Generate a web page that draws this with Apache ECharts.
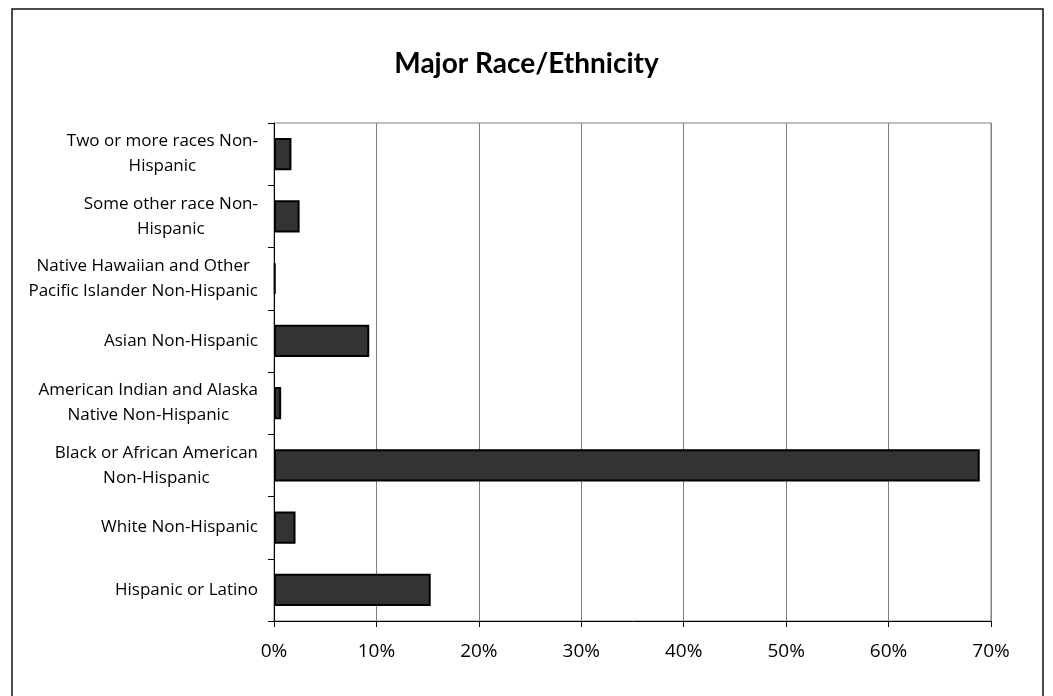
<!DOCTYPE html>
<html>
<head>
<meta charset="utf-8">
<style>
  html, body { margin: 0; padding: 0; background: #ffffff; }
  #chart { width: 1053px; height: 696px; }
</style>
<script src="https://cdn.jsdelivr.net/npm/echarts@6/dist/echarts.min.js"></script>
</head>
<body>
<div id="chart"></div>
<script>
// Categories listed bottom to top (category axis grows upward)
const categories = [
  'Hispanic or Latino',
  'White Non-Hispanic',
  'Black or African American\nNon-Hispanic',
  'American Indian and Alaska\nNative Non-Hispanic',
  'Asian Non-Hispanic',
  'Native Hawaiian and Other\nPacific Islander Non-Hispanic',
  'Some other race Non-\nHispanic',
  'Two or more races Non-\nHispanic'
];
// Share of population, percent
const shares = [15.3, 2.1, 68.9, 0.7, 9.3, 0.15, 2.5, 1.7];
const xTicks = [0, 10, 20, 30, 40, 50, 60, 70];

const labelFont = '"Open Sans", "DejaVu Sans", sans-serif';

const chart = echarts.init(document.getElementById('chart'), null, { renderer: 'canvas' });
chart.setOption({
  animation: false,
  backgroundColor: '#ffffff',
  title: {
    text: 'Major Race/Ethnicity',
    left: 'center',
    top: 45,
    textStyle: {
      fontFamily: '"Lato", "Open Sans", sans-serif',
      fontWeight: 'bold',
      fontSize: 28,
      color: '#000000'
    }
  },
  graphic: [{
    type: 'rect',
    shape: { x: 12, y: 9, width: 1031, height: 720 },
    style: { fill: 'none', stroke: '#111111', lineWidth: 1.5 },
    silent: true
  }],
  grid: {
    left: 274,
    right: 62,
    top: 123,
    bottom: 75,
    show: true,
    borderColor: '#808080',
    borderWidth: 1
  },
  xAxis: {
    type: 'value',
    min: xTicks[0],
    max: xTicks[xTicks.length - 1],
    interval: 10,
    axisLine: { show: true, lineStyle: { color: '#000000', width: 1 } },
    axisTick: { show: true, length: 6, inside: false, lineStyle: { color: '#000000' } },
    splitLine: { show: true, lineStyle: { color: '#808080', width: 1 } },
    axisLabel: {
      formatter: v => v + '%',
      margin: 21,
      fontFamily: labelFont,
      fontSize: 19,
      color: '#000000'
    }
  },
  yAxis: {
    type: 'category',
    data: categories,
    axisLine: { show: true, lineStyle: { color: '#000000', width: 1 } },
    axisTick: { show: true, length: 6, lineStyle: { color: '#000000' } },
    splitLine: { show: false },
    axisLabel: {
      margin: 16,
      align: 'right',
      // each line centred inside the right-aligned label block
      formatter: v => v.split('\n').map(s => '{c|' + s + '}').join('\n'),
      rich: {
        c: {
          align: 'center',
          lineHeight: 25,
          fontFamily: labelFont,
          fontSize: 17,
          color: '#000000'
        }
      },
      lineHeight: 25,
      fontFamily: labelFont,
      fontSize: 17,
      color: '#000000'
    }
  },
  series: [{
    type: 'bar',
    data: shares,
    barWidth: '52%',
    itemStyle: {
      color: '#333333',
      borderColor: '#000000',
      borderWidth: 2
    }
  }]
});
</script>
</body>
</html>
